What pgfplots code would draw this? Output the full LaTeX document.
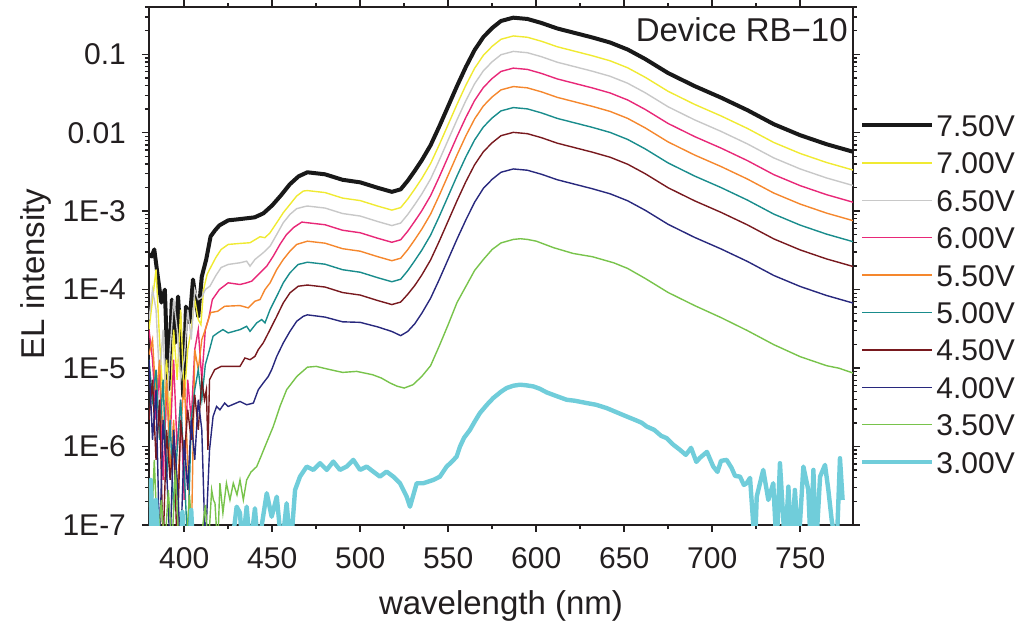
\documentclass[border=0pt]{standalone}
\usepackage{fontspec}
\setmainfont{Liberation Sans}
\usepackage{pgfplots}
\pgfplotsset{compat=1.18}
\definecolor{txt}{RGB}{35,31,32}
\definecolor{axc}{RGB}{35,31,32}
\definecolor{blackV}{RGB}{25,25,25}
\definecolor{yellowV}{RGB}{240,234,50}
\definecolor{grayV}{RGB}{200,200,200}
\definecolor{pinkV}{RGB}{232,40,120}
\definecolor{orangeV}{RGB}{245,135,45}
\definecolor{tealV}{RGB}{25,140,140}
\definecolor{maroonV}{RGB}{120,25,30}
\definecolor{navyV}{RGB}{40,40,125}
\definecolor{greenV}{RGB}{120,195,75}
\definecolor{cyanV}{RGB}{112,205,218}
\begin{document}
\begin{tikzpicture}
\begin{axis}[name=ax,
  scale only axis, width=352pt, height=259pt,
  xmin=380, xmax=780, ymin=1e-7, ymax=0.4, ymode=log,
  xtick={400,450,500,550,600,650,700,750}, minor x tick num=1,
  ytick={1e-7,1e-6,1e-5,1e-4,1e-3,1e-2,1e-1},
  yticklabels={1E-7,1E-6,1E-5,1E-4,1E-3,0.01,0.1},
  minor ytick={2e-7,3e-7,4e-7,5e-7,6e-7,7e-7,8e-7,9e-7,
    2e-6,3e-6,4e-6,5e-6,6e-6,7e-6,8e-6,9e-6,
    2e-5,3e-5,4e-5,5e-5,6e-5,7e-5,8e-5,9e-5,
    2e-4,3e-4,4e-4,5e-4,6e-4,7e-4,8e-4,9e-4,
    2e-3,3e-3,4e-3,5e-3,6e-3,7e-3,8e-3,9e-3,
    2e-2,3e-2,4e-2,5e-2,6e-2,7e-2,8e-2,9e-2,
    0.2,0.3,0.4},
  tick align=outside,
  major tick length=3.5pt, minor tick length=2pt,
  axis line style={line width=0.9pt, color=axc},
  every tick/.style={line width=0.7pt, color=axc},
  tick label style={font=\fontsize{15}{18}\selectfont, text=txt},
  /pgf/number format/assume math mode=true,
  xticklabel style={yshift=-4pt},
  yticklabel style={xshift=-4.5pt},
  xlabel={wavelength (nm)}, ylabel={EL intensity},
  label style={font=\fontsize{16.5}{20}\selectfont, text=txt},
  xlabel style={at={(axis description cs:0.5,-0.172)}, anchor=base},
  ylabel style={at={(axis description cs:-0.149,0.485)}, anchor=base},
  legend cell align=left,
  legend image code/.code={\draw[#1] (0pt,0pt) -- (35pt,0pt);},
  legend style={at={(rel axis cs:1,1)}, anchor=north west, xshift=3.3pt, yshift=-52.5pt,
    draw=none, fill=none, inner sep=0pt, row sep=5.7pt,
    font=\fontsize{15}{18}\selectfont, text=txt,
    nodes={inner sep=1pt, text height=11pt, text depth=0pt}},
]
% 7.50V
\addplot[blackV, line width=2pt, line join=round] coordinates {
(380,2.805e-4)(381.5,2.649e-4)(383,3.251e-4)(385,1.469e-4)(387,6.84e-5)(389,1.00e-4)(391,5.30e-6)(393,7.48e-5)(395,2.11e-5)(396.5,8.17e-5)(398,2.31e-5)(399.5,4.31e-6)(401,6.08e-5)(403,3.80e-5)(405,1.345e-4)(406.5,7.48e-5)(408,4.53e-5)(410,1.469e-4)(412.5,2.42e-4)(415,4.76e-4)(417.5,5.69e-4)(420,6.59e-4)(425,7.64e-4)(430,7.85e-4)(435,8.09e-4)(440,8.34e-4)(445,9.38e-4)(450,1.186e-3)(455,1.592e-3)(460,2.20e-3)(465,2.78e-3)
(470,3.13e-3)(480,2.95e-3)(490,2.51e-3)(500,2.33e-3)(510,1.984e-3)(518,1.764e-3)(523,1.899e-3)(527,2.44e-3)(531,3.27e-3)(535,4.46e-3)(540,6.93e-3)(545,1.211e-2)(550,2.18e-2)(555,3.93e-2)(560,6.86e-2)(565,0.1131)(570,0.1658)(575,0.2161)(580,0.2655)(587,0.2925)(595,0.2817)(603,0.2503)(612,0.2129)(622,0.1866)(632,0.1634)(642,0.1411)(652,0.1148)(662,8.68e-2)(675,5.75e-2)(690,3.93e-2)(705,2.80e-2)(720,1.938e-2)(735,1.284e-2)(750,9.29e-3)(765,7.13e-3)(780,5.72e-3)};
\addlegendentry{7.50V}
% 7.00V
\addplot[yellowV, line width=0.7pt] coordinates {
(380,3.093e-5)(382,7.474e-5)(384,1.806e-4)(386,2.306e-5)(388,3.948e-6)(390,1.280e-5)(392,2.193e-6)(394,3.093e-5)(396,7.110e-6)(398,5.568e-5)(400,3.948e-6)(402,1.718e-5)(404,3.093e-5)(406,7.474e-5)(408,4.151e-5)(409.5,3.584e-5)(411,1.003e-4)(413,1.559e-4)(415,1.915e-4)(418,2.570e-4)(421,3.252e-4)(425,3.767e-4)(431.7,3.880e-4)(437.4,3.960e-4)(443.1,4.724e-4)(445.9,4.588e-4)(448.8,5.314e-4)(452.6,7.131e-4)(456.3,9.568e-4)(460.1,1.221e-3)(463.9,1.559e-3)(467.7,1.806e-3)
(470,1.830e-3)(480,1.726e-3)(490,1.468e-3)(500,1.364e-3)(510,1.160e-3)(518,1.032e-3)(523,1.110e-3)(527,1.426e-3)(531,1.913e-3)(535,2.605e-3)(540,4.050e-3)(545,7.08e-3)(550,1.275e-2)(555,2.296e-2)(560,4.013e-2)(565,6.616e-2)(570,9.70e-2)(575,0.1264)(580,0.1552)(587,0.1711)(595,0.1646)(603,0.1464)(612,0.1245)(622,0.1091)(632,9.556e-2)(642,8.250e-2)(652,6.714e-2)(662,5.078e-2)(675,3.365e-2)(690,2.296e-2)(705,1.637e-2)(720,1.133e-2)(735,7.51e-3)(750,5.435e-3)(765,4.170e-3)(780,3.345e-3)};
\addlegendentry{7.00V}
% 6.50V
\addplot[grayV, line width=0.7pt] coordinates {
(380,4.151e-5)(382,1.003e-4)(384,5.568e-5)(386,7.110e-6)(388,3.093e-5)(390,2.193e-6)(392,1.718e-5)(394,7.474e-5)(396,3.093e-5)(398,7.110e-6)(400,1.280e-5)(402,5.568e-5)(404,2.306e-5)(406,1.003e-4)(408,7.474e-5)(410,7.926e-5)(412,1.003e-4)(414.6,1.105e-4)(418,1.514e-4)(421,1.915e-4)(425,2.093e-4)(431.7,2.199e-4)(435.5,2.306e-4)(437.4,1.991e-4)(440.2,2.424e-4)(444.9,2.951e-4)(448.8,3.584e-4)(452.6,5.055e-4)(456.3,7.131e-4)(460.1,9.102e-4)(463.9,1.076e-3)(467.7,1.134e-3)
(470,1.163e-3)(480,1.096e-3)(490,9.327e-4)(500,8.667e-4)(510,7.374e-4)(518,6.554e-4)(523,7.055e-4)(527,9.057e-4)(531,1.215e-3)(535,1.655e-3)(540,2.573e-3)(545,4.498e-3)(550,8.098e-3)(555,1.458e-2)(560,2.550e-2)(565,4.203e-2)(570,6.162e-2)(575,8.028e-2)(580,9.863e-2)(587,0.1087)(595,0.1046)(603,9.301e-2)(612,7.910e-2)(622,6.932e-2)(632,6.071e-2)(642,5.241e-2)(652,4.266e-2)(662,3.226e-2)(675,2.137e-2)(690,1.458e-2)(705,1.040e-2)(720,7.203e-3)(735,4.771e-3)(750,3.452e-3)(765,2.649e-3)(780,2.124e-3)};
\addlegendentry{6.50V}
% 6.00V
\addplot[pinkV, line width=0.7pt] coordinates {
(380,3.093e-5)(382,1.280e-5)(384,2.193e-6)(386,9.541e-6)(388,3.757e-7)(390,5.299e-6)(392,1.218e-6)(394,1.280e-5)(396,9.075e-7)(398,3.948e-6)(400,2.086e-7)(402,7.110e-6)(404,2.193e-6)(406,1.718e-5)(408,3.093e-5)(410,7.110e-6)(412,3.093e-5)(414,4.403e-5)(416,7.474e-5)(420,1.003e-4)(425,1.221e-4)(431.7,1.162e-4)(435.5,1.221e-4)(438.3,1.280e-4)(443.1,1.639e-4)(446.9,1.991e-4)(450.6,2.671e-4)(454.4,3.767e-4)(458.2,5.055e-4)(462,6.157e-4)(466.8,7.259e-4)
(470,7.120e-4)(480,6.714e-4)(490,5.711e-4)(500,5.306e-4)(510,4.514e-4)(518,4.013e-4)(523,4.319e-4)(527,5.546e-4)(531,7.443e-4)(535,1.013e-3)(540,1.575e-3)(545,2.754e-3)(550,4.959e-3)(555,8.930e-3)(560,1.561e-2)(565,2.574e-2)(570,3.774e-2)(575,4.916e-2)(580,6.039e-2)(587,6.656e-2)(595,6.406e-2)(603,5.695e-2)(612,4.844e-2)(622,4.244e-2)(632,3.718e-2)(642,3.209e-2)(652,2.612e-2)(662,1.976e-2)(675,1.309e-2)(690,8.930e-3)(705,6.368e-3)(720,4.409e-3)(735,2.921e-3)(750,2.114e-3)(765,1.622e-3)(780,1.301e-3)};
\addlegendentry{6.00V}
% 5.50V
\addplot[orangeV, line width=0.7pt] coordinates {
(380,1.483e-5)(382,2.306e-5)(384,3.948e-6)(386,1.280e-5)(388,1.218e-6)(390,7.110e-6)(392,5.04e-7)(394,2.193e-6)(396,2.086e-7)(398,1.634e-6)(400,7.110e-6)(402,6.763e-7)(404,5e-8)(406,1.718e-5)(408,9.541e-6)(410,2.306e-5)(412,3.093e-5)(415,5.099e-5)(419,5.298e-5)(423,6.138e-5)(431.7,6.265e-5)(436.4,5.855e-5)(440.2,7.110e-5)(443.1,7.474e-5)(445.9,1.003e-4)(448.8,1.221e-4)(452.6,1.806e-4)(456.3,2.424e-4)(460.1,3.093e-4)(463.9,3.767e-4)
(470,4.145e-4)(480,3.908e-4)(490,3.325e-4)(500,3.089e-4)(510,2.628e-4)(518,2.336e-4)(523,2.514e-4)(527,3.228e-4)(531,4.332e-4)(535,5.900e-4)(540,9.171e-4)(545,1.603e-3)(550,2.886e-3)(555,5.198e-3)(560,9.089e-3)(565,1.498e-2)(570,2.196e-2)(575,2.861e-2)(580,3.516e-2)(587,3.875e-2)(595,3.730e-2)(603,3.315e-2)(612,2.820e-2)(622,2.471e-2)(632,2.164e-2)(642,1.868e-2)(652,1.521e-2)(662,1.150e-2)(675,7.619e-3)(690,5.198e-3)(705,3.707e-3)(720,2.567e-3)(735,1.701e-3)(750,1.231e-3)(765,9.443e-4)(780,7.573e-4)};
\addlegendentry{5.50V}
% 5.00V
\addplot[tealV, line width=0.7pt] coordinates {
(380,1.280e-5)(382,3.948e-6)(384,9.541e-6)(386,1.218e-6)(388,7.110e-6)(390,3.757e-7)(392,2.193e-6)(394,1.554e-7)(396,9.075e-7)(398,3.948e-6)(400,5.04e-7)(402,5e-8)(404,2.193e-6)(406,5.299e-6)(408,9.541e-6)(410,3.948e-6)(412,1.105e-5)(414.4,1.718e-5)(416.4,2.541e-5)(419,2.808e-5)(422,3.093e-5)(425,2.808e-5)(431.7,3.093e-5)(435.5,3.409e-5)(437.4,2.942e-5)(441.2,3.767e-5)(444,4.151e-5)(445.9,3.767e-5)(448.8,5.568e-5)(452.6,8.235e-5)(456.3,1.221e-4)(460.1,1.639e-4)(464.8,2.093e-4)
(470,2.236e-4)(480,2.109e-4)(490,1.794e-4)(500,1.667e-4)(510,1.418e-4)(518,1.260e-4)(523,1.356e-4)(527,1.742e-4)(531,2.337e-4)(535,3.183e-4)(540,4.948e-4)(545,8.650e-4)(550,1.557e-3)(555,2.805e-3)(560,4.903e-3)(565,8.083e-3)(570,1.185e-2)(575,1.544e-2)(580,1.897e-2)(587,2.091e-2)(595,2.012e-2)(603,1.788e-2)(612,1.521e-2)(622,1.333e-2)(632,1.168e-2)(642,1.008e-2)(652,8.204e-3)(662,6.204e-3)(675,4.111e-3)(690,2.805e-3)(705,2.000e-3)(720,1.385e-3)(735,9.175e-4)(750,6.639e-4)(765,5.095e-4)(780,4.087e-4)};
\addlegendentry{5.00V}
% 4.50V
\addplot[maroonV, line width=0.7pt] coordinates {
(380,2.193e-6)(382,7.110e-6)(384,6.763e-7)(386,3.948e-6)(388,5e-8)(390,1.634e-6)(392,3.757e-7)(394,1.218e-6)(396,5e-8)(398,2.193e-6)(400,6.763e-7)(402,2.942e-6)(404,1.218e-6)(406,4.575e-6)(408,1.634e-6)(410,7.110e-6)(411.5,3.948e-6)(412.6,5.299e-6)(413.5,9.075e-7)(414.4,7.110e-6)(417.3,9.541e-6)(421,1.051e-5)(425,1.051e-5)(431.7,1.051e-5)(434.5,1.346e-5)(437.4,1.280e-5)(440.2,1.411e-5)(442.1,1.718e-5)(444.9,2.093e-5)(448.8,3.093e-5)(452.6,4.575e-5)(456.3,6.782e-5)(460.1,9.102e-5)(464.8,1.105e-4)
(470,1.144e-4)(480,1.079e-4)(490,9.177e-5)(500,8.527e-5)(510,7.254e-5)(518,6.451e-5)(523,6.941e-5)(527,8.710e-5)(531,1.129e-4)(535,1.537e-4)(540,2.390e-4)(545,4.178e-4)(550,7.522e-4)(555,1.355e-3)(560,2.368e-3)(565,3.905e-3)(570,5.725e-3)(575,7.458e-3)(580,9.162e-3)(587,1.010e-2)(595,9.718e-3)(603,8.641e-3)(612,7.350e-3)(622,6.440e-3)(632,5.641e-3)(642,4.869e-3)(652,3.963e-3)(662,2.997e-3)(675,1.986e-3)(690,1.355e-3)(705,9.661e-4)(720,6.689e-4)(735,4.432e-4)(750,3.207e-4)(765,2.461e-4)(780,1.974e-4)};
\addlegendentry{4.50V}
% 4.00V
\addplot[navyV, line width=0.7pt] coordinates {
(380,1.280e-5)(382,1.218e-6)(384,5.299e-6)(386,5e-8)(388,2.193e-6)(390,5.04e-7)(392,5e-8)(394,1.634e-6)(396,3.757e-7)(398,5e-8)(400,1.218e-6)(402,2.799e-7)(404,2.193e-6)(406,6.763e-7)(408,3.948e-6)(410,1.634e-6)(412,5e-8)(414.4,9.075e-7)(416.4,2.416e-6)(418.4,3.243e-6)(420.3,2.942e-6)(423,3.584e-6)(425,3.243e-6)(431.7,3.757e-6)(435.5,3.409e-6)(439.3,3.584e-6)(442.1,5.299e-6)(444.9,6.451e-6)(447.8,7.834e-6)(449.7,9.541e-6)(452.6,1.411e-5)(456.3,2.093e-5)(460.1,2.942e-5)(463.9,3.948e-5)(467.7,4.575e-5)
(470,4.770e-5)(480,4.467e-5)(490,3.889e-5)(500,3.827e-5)(510,3.347e-5)(518,2.928e-5)(523,2.591e-5)(527,2.931e-5)(531,3.671e-5)(535,4.998e-5)(540,7.769e-5)(545,1.358e-4)(550,2.445e-4)(555,4.404e-4)(560,7.700e-4)(565,1.299e-3)(570,1.957e-3)(575,2.551e-3)(580,3.133e-3)(587,3.453e-3)(595,3.324e-3)(603,2.954e-3)(612,2.513e-3)(622,2.202e-3)(632,1.929e-3)(642,1.665e-3)(652,1.355e-3)(662,1.025e-3)(675,6.790e-4)(690,4.633e-4)(705,3.304e-4)(720,2.288e-4)(735,1.515e-4)(750,1.097e-4)(765,8.417e-5)(780,6.750e-5)};
\addlegendentry{4.00V}
% 3.50V
\addplot[greenV, line width=0.7pt] coordinates {
(380,3.757e-7)(381,5e-8)(383,6.763e-7)(385,5e-8)(387,2.086e-7)(389,5e-8)(391,2.799e-7)(393,5e-8)(395,5.04e-7)(397,5e-8)(399,1.554e-7)(401,5e-8)(403,2.416e-7)(405,5e-8)(409,5e-8)(412,1.80e-7)(413.7,5e-8)(415.6,2.80e-7)(416.6,2.09e-7)(417.5,1.893e-7)(419,5e-8)(420.3,3.41e-7)(422,1.423e-7)(424,3.41e-7)(426,2.09e-7)(427.9,3.41e-7)(430,2.42e-7)(431.7,3.76e-7)(433.6,2.09e-7)(435.5,3.76e-7)(438,4.753e-7)(441.2,5.554e-7)(444,7.834e-7)(445.9,1.0e-6)(450.6,1.80e-6)(454.4,3.243e-6)(458.2,5.299e-6)(464,7.834e-6)(470,1.027e-5)(475,1.051e-5)(483,9.541e-6)(490,8.812e-6)(498,9.075e-6)(507,8.235e-6)(512,7.475e-6)(517,6.451e-6)(521,5.874e-6)(525,5.570e-6)(530,6.138e-6)(535,7.834e-6)(540,1.073e-5)(545,1.932e-5)(550,3.584e-5)(555,6.842e-5)(560,1.095e-4)(565,1.754e-4)(570,2.424e-4)(575,3.252e-4)(580,3.937e-4)(587,4.363e-4)(591,4.455e-4)(595,4.363e-4)(600,4.150e-4)(610,3.418e-4)(621,2.891e-4)(632,2.624e-4)(644,2.199e-4)(652,1.860e-4)(662,1.386e-4)(675,9.183e-5)(690,6.265e-5)(705,4.403e-5)(720,3.005e-5)(735,1.990e-5)(750,1.398e-5)(765,1.073e-5)(772,9.97e-6)(780,8.656e-6)};
\addlegendentry{3.50V}
% 3.00V
\addplot[cyanV, line width=2.2pt, line join=round] coordinates {
(380,5e-8)(381,3.757e-7)(382.5,5e-8)(384,2.086e-7)(385.5,5e-8)(398,5e-8)(399,1.466e-7)(400,5e-8)(403,5e-8)(404,1.554e-7)(405,5e-8)(427,5e-8)(429.8,1.713e-7)(431.7,1.423e-7)(433,5e-8)(435.5,1.713e-7)(437.5,5e-8)(440.2,1.634e-7)(442,5e-8)(446.9,2.541e-7)(449.7,1.276e-7)(452.6,2.298e-7)(455.4,5e-8)(458.2,1.893e-7)(460.5,5e-8)(463,2.799e-7)(465.8,4.139e-7)(469.6,5.554e-7)(473.4,5.04e-7)(477.2,6.138e-7)(481,5.04e-7)(484.7,6.433e-7)(488.5,5.04e-7)(492.3,5.554e-7)(496.1,6.763e-7)(499.9,5.04e-7)(503.7,5.554e-7)(507.4,4.795e-7)(511.2,4.139e-7)(515,4.795e-7)(518.8,4.139e-7)(522.6,3.41e-7)(526.4,2.298e-7)(528.3,1.713e-7)(532.1,3.41e-7)(535.9,3.41e-7)(541.6,3.757e-7)(545.3,4.139e-7)(549.1,5.554e-7)(552,6.377e-7)(554.8,7.453e-7)(556.7,1.0e-6)(559,1.292e-6)(562.4,1.634e-6)(565,2.068e-6)(568,2.671e-6)(572,3.409e-6)(575.6,4.151e-6)(580,4.995e-6)(583.2,5.570e-6)(587,5.960e-6)(590.8,6.138e-6)(594,6.048e-6)(598.4,5.840e-6)(602,5.457e-6)(606,4.893e-6)(611,4.442e-6)(617.3,3.948e-6)(622,3.834e-6)(628.7,3.584e-6)(634,3.409e-6)(640,3.093e-6)(645,2.775e-6)(651.4,2.416e-6)(656,2.193e-6)(660,2.008e-6)(662.8,1.80e-6)(667,1.634e-6)(671,1.370e-6)(674.1,1.280e-6)(678,1.051e-6)(681.7,9.075e-7)(685,7.834e-7)(688,9.625e-7)(691,6.377e-7)(693,7.172e-7)(697,8.556e-7)(700.6,5.554e-7)(703,4.753e-7)(705,6.567e-7)(708.2,6.763e-7)(711,5.346e-7)(713,4.225e-7)(715.8,4.139e-7)(718,3.243e-7)(719.6,3.41e-7)(721.5,3.984e-7)(724.3,5e-8)(725.3,2.298e-7)(729,5.04e-7)(731.9,2.086e-7)(734.7,3.41e-7)(736.6,5e-8)(738.5,6.138e-7)(741.4,5e-8)(743.3,3.084e-7)(745,5e-8)(747,2.799e-7)(749,5e-8)(751.8,5.554e-7)(754.6,2.799e-7)(756,5e-8)(757.5,5.04e-7)(759,5e-8)(761.3,4.139e-7)(764.1,5.836e-7)(766,2.799e-7)(767.9,1.158e-7)(770.7,5e-8)(772.6,7.109e-7)(774.1,2.086e-7)};
\addlegendentry{3.00V}
\node[anchor=north east, inner sep=0pt, font=\fontsize{16.5}{20}\selectfont, text=txt] at (rel axis cs:0.993,0.981) {Device RB−10};
\end{axis}
\pgfresetboundingbox
\path[use as bounding box] ([shift={(-74.5pt,-53.5pt)}]ax.south west) rectangle ++(514pt,316pt);
\end{tikzpicture}
\end{document}
